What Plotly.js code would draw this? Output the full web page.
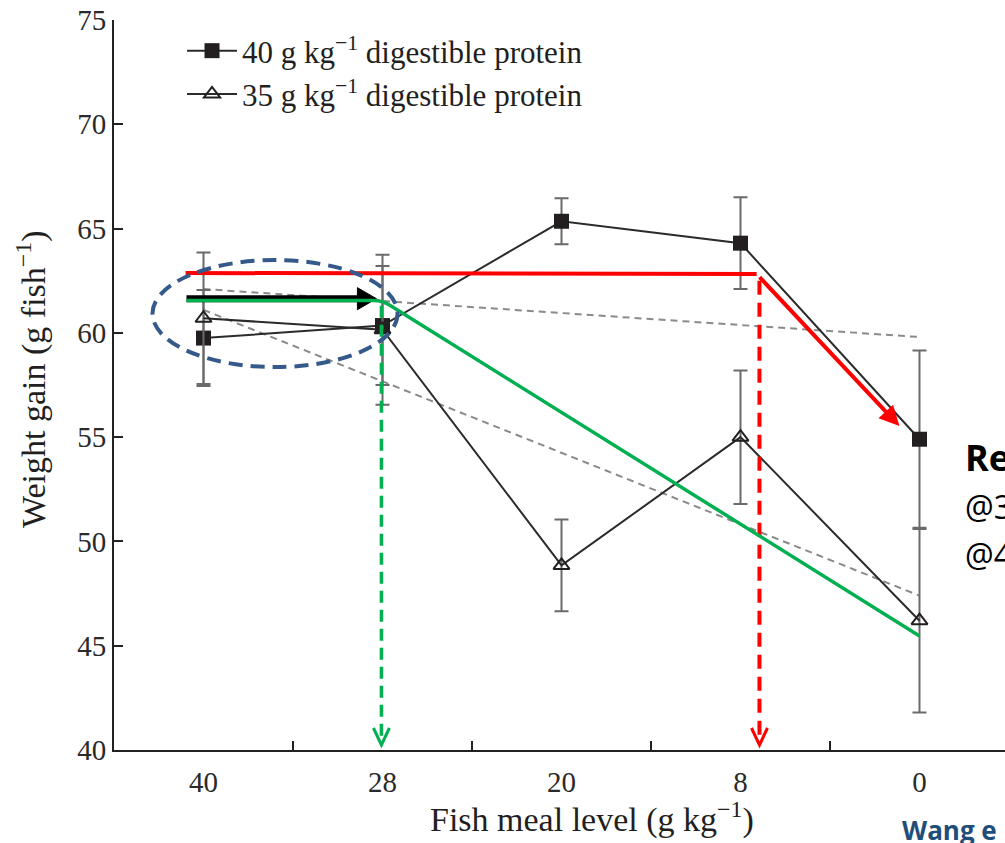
<!DOCTYPE html>
<html>
<head>
<meta charset="utf-8">
<script src="https://cdn.plot.ly/plotly-3.0.1.min.js"></script>
<style>
  html, body { margin: 0; padding: 0; background: #fff; overflow: hidden; }
  #chart { width: 1015px; height: 843px; }
</style>
</head>
<body>
<div id="chart"></div>
<script>
// ---- data ----
const fishMealLevels = ['40', '28', '20', '8', '0'];          // g kg-1 (categorical x)
const gain40 = [59.75, 60.35, 65.35, 64.3, 54.9];             // 40 g kg-1 digestible protein
const err40  = [2.3, 2.85, 1.1, 2.2, 4.25];
const gain35 = [60.7, 60.15, 48.85, 55.0, 46.2];              // 35 g kg-1 digestible protein
const err35  = [3.15, 3.6, 2.2, 3.2, 4.4];
const trend40 = [62.1, 59.8];                                 // dashed linear trend, first & last level
const trend35 = [61.1, 47.4];
const seriesNames = ['40 g kg<sup>\u22121</sup> digestible protein', '35 g kg<sup>\u22121</sup> digestible protein'];
const yTicks = [40, 45, 50, 55, 60, 65, 70, 75];

const xIdx = fishMealLevels.map((_, i) => i);
const boundaries = fishMealLevels.slice(1).map((_, i) => i + 0.5);
const trendX = [0, fishMealLevels.length - 1];

const serif = 'Liberation Serif, Times New Roman, serif';
const ink = '#2b2b2b';

const traces = [
  { x: trendX, y: trend40, mode: 'lines', showlegend: false, hoverinfo: 'skip',
    line: { color: '#8a8a8a', width: 2, dash: '7px,5px' } },
  { x: trendX, y: trend35, mode: 'lines', showlegend: false, hoverinfo: 'skip',
    line: { color: '#8a8a8a', width: 2, dash: '7px,5px' } },
  { x: xIdx, y: gain40, name: seriesNames[0], mode: 'lines+markers',
    line: { color: ink, width: 2 },
    marker: { symbol: 'square', size: 15, color: '#231f20', line: { width: 0 } },
    error_y: { type: 'data', array: err40, visible: true, color: '#6a6a6a', thickness: 2, width: 7 } },
  { x: xIdx, y: gain35, name: seriesNames[1], mode: 'lines+markers',
    line: { color: ink, width: 2 },
    marker: { symbol: 'triangle-up-open', size: 14, color: '#231f20', line: { width: 2, color: '#231f20' } },
    error_y: { type: 'data', array: err35, visible: true, color: '#6a6a6a', thickness: 2, width: 7 } }
];

const shapes = [
  // red horizontal
  { type: 'line', xref: 'x', yref: 'y', x0: -0.1, y0: 62.87, x1: 3.09, y1: 62.82,
    line: { color: '#ff0000', width: 4 } },
  // red dashed drop line + open head
  { type: 'line', xref: 'x', yref: 'y', x0: 3.106, y0: 62.5, x1: 3.106, y1: 40.5,
    line: { color: '#ff0000', width: 4, dash: '14px,8px' } },
  { type: 'path', xref: 'x', yref: 'y', xsizemode: 'pixel', ysizemode: 'pixel', xanchor: 3.106, yanchor: 40.24,
    path: 'M-8,17 L0,0 L8,17', line: { color: '#ff0000', width: 3 } },
  // green dashed drop line + open head
  { type: 'line', xref: 'x', yref: 'y', x0: 0.994, y0: 61.3, x1: 0.994, y1: 40.5,
    line: { color: '#00b050', width: 3.5, dash: '12px,7px' } },
  { type: 'path', xref: 'x', yref: 'y', xsizemode: 'pixel', ysizemode: 'pixel', xanchor: 0.994, yanchor: 40.24,
    path: 'M-8,17 L0,0 L8,17', line: { color: '#00b050', width: 3 } },
  // black arrow (shaft + head)
  { type: 'line', xref: 'x', yref: 'y', x0: -0.095, y0: 61.64, x1: 0.88, y1: 61.64,
    line: { color: '#000', width: 7 } },
  { type: 'path', xref: 'x', yref: 'y', xsizemode: 'pixel', ysizemode: 'pixel', xanchor: 0.966, yanchor: 61.64,
    path: 'M0,0 L-19,11 L-19,-11 Z', fillcolor: '#000', line: { color: '#000', width: 1 } },
  // green line
  { type: 'path', xref: 'x', yref: 'y',
    path: 'M-0.095,61.55 L0.95,61.55 Q1.0,61.55 1.05,61.28 L4.0,45.47',
    line: { color: '#00b050', width: 3.5 } },
  // blue dashed ellipse
  { type: 'circle', xref: 'x', yref: 'y', x0: -0.285, x1: 1.084, y0: 58.36, y1: 63.49,
    line: { color: '#35598a', width: 4, dash: '14px,8px' } }
];

const annotations = [
  // red diagonal arrow
  { xref: 'x', yref: 'y', axref: 'x', ayref: 'y', x: 3.888, y: 55.53, ax: 3.09, ay: 62.82,
    text: ' ', showarrow: true, arrowhead: 2, arrowsize: 1.0, arrowwidth: 4, arrowcolor: '#ff0000' },
  // axis titles
  { xref: 'paper', yref: 'paper', x: -0.0916, y: 0.507, xanchor: 'center', yanchor: 'middle',
    textangle: -90, showarrow: false, text: 'Weight gain (g fish<sup>\u22121</sup>)',
    font: { family: serif, size: 34, color: '#231f20' } },
  { xref: 'paper', yref: 'paper', x: 0.534, y: -0.093, xanchor: 'center', yanchor: 'middle',
    showarrow: false, text: 'Fish meal level (g kg<sup>\u22121</sup>)',
    font: { family: serif, size: 34, color: '#231f20' } },
  // side notes (cut off at the picture edge, as in the reference)
  { xref: 'paper', yref: 'paper', x: 0.949, y: 0.401, xanchor: 'left', yanchor: 'middle',
    showarrow: false, text: '<b>Re</b>', font: { family: 'Open Sans, sans-serif', size: 36, color: '#000' } },
  { xref: 'paper', yref: 'paper', x: 0.949, y: 0.333, xanchor: 'left', yanchor: 'middle',
    showarrow: false, text: '@3', font: { family: 'Open Sans, sans-serif', size: 32, color: '#000' } },
  { xref: 'paper', yref: 'paper', x: 0.949, y: 0.268, xanchor: 'left', yanchor: 'middle',
    showarrow: false, text: '@4', font: { family: 'Open Sans, sans-serif', size: 32, color: '#000' } },
  { xref: 'paper', yref: 'paper', x: 0.878, y: -0.11, xanchor: 'left', yanchor: 'middle',
    showarrow: false, text: '<b>Wang e</b>', font: { family: 'Open Sans, sans-serif', size: 26, color: '#1f4e79' } }
];

const layout = {
  width: 1015, height: 843,
  margin: { l: 114, r: 6, t: 20, b: 93 },
  paper_bgcolor: '#fff', plot_bgcolor: '#fff',
  showlegend: true,
  legend: { x: 0.076, y: 0.9945, xanchor: 'left', yanchor: 'top', bgcolor: 'rgba(0,0,0,0)',
    borderwidth: 0, itemwidth: 50, font: { family: serif, size: 31, color: '#231f20' }, traceorder: 'normal' },
  xaxis: {
    range: [-0.5, 4.5], tickmode: 'array', tickvals: xIdx, ticktext: fishMealLevels,
    ticks: '', showline: true, linecolor: '#222', linewidth: 2, showgrid: false, zeroline: false,
    ticklabelstandoff: 5,
    tickfont: { family: serif, size: 29, color: '#2a2a2a' },
    minor: { tickmode: 'array', tickvals: boundaries, ticks: 'inside', ticklen: 9, tickwidth: 2, tickcolor: '#222', showgrid: false }
  },
  yaxis: {
    range: [40, 75], tickmode: 'array', tickvals: yTicks, ticks: 'inside', ticklen: 9, tickwidth: 2, tickcolor: '#222',
    showline: true, linecolor: '#222', linewidth: 2, showgrid: false, zeroline: false,
    tickfont: { family: serif, size: 29, color: '#2a2a2a' }
  },
  shapes: shapes,
  annotations: annotations
};

Plotly.newPlot('chart', traces, layout, { displayModeBar: false, staticPlot: true });
</script>
</body>
</html>
